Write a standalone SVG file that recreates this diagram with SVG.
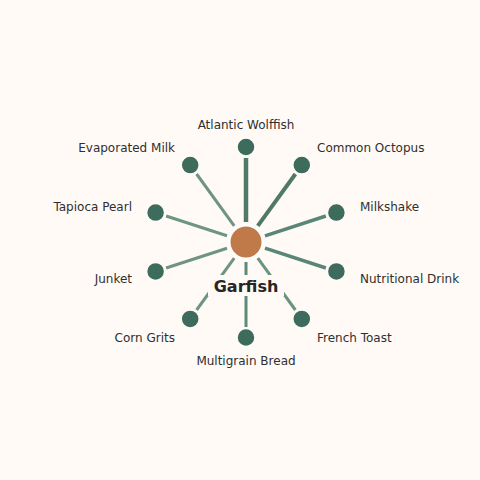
<svg xmlns="http://www.w3.org/2000/svg" width="480" height="480" viewBox="0 0 480 480">
<style>
.bg{fill:#fffaf6}
.leaf{fill:#3d6b5c;stroke:#fffaf6;stroke-width:1.5}
.hub{fill:#c07a4a;stroke:#ffffff;stroke-width:2}
.lbl{font-family:"DejaVu Sans",sans-serif;font-size:12px;fill:#2f2f2f}
.hubl{font-family:"DejaVu Sans",sans-serif;font-size:16px;font-weight:bold;fill:#262626}
.edge{stroke-linecap:butt;fill:none}
</style>
<rect class="bg" x="0" y="0" width="480" height="480"/>
<g id="connectors">
<line class="edge" x1="246" y1="222" x2="246" y2="158" stroke="#4f7a6a" stroke-width="4.5"/>
<line class="edge" x1="257.8" y1="225.8" x2="295.4" y2="174" stroke="#4f7a6a" stroke-width="4"/>
<line class="edge" x1="265" y1="235.8" x2="325.9" y2="216" stroke="#5a8677" stroke-width="3.5"/>
<line class="edge" x1="265" y1="248.2" x2="325.9" y2="268" stroke="#5a8677" stroke-width="3.5"/>
<line class="edge" x1="257.8" y1="258.2" x2="295.4" y2="310" stroke="#6b9282" stroke-width="3"/>
<line class="edge" x1="246" y1="262" x2="246" y2="327" stroke="#5f8a7a" stroke-width="3"/>
<line class="edge" x1="234.2" y1="258.2" x2="196.6" y2="310" stroke="#6e9484" stroke-width="3"/>
<line class="edge" x1="227" y1="248.2" x2="166.1" y2="268" stroke="#6e9484" stroke-width="3"/>
<line class="edge" x1="227" y1="235.8" x2="166.1" y2="216" stroke="#6e9484" stroke-width="3"/>
<line class="edge" x1="234.2" y1="225.8" x2="196.6" y2="174" stroke="#6e9484" stroke-width="3"/>
</g>
<g id="n-atlantic-wolffish"><circle class="leaf" cx="246" cy="147" r="9"/><text class="lbl" x="246" y="128.5" text-anchor="middle">Atlantic Wolffish</text></g>
<g id="n-common-octopus"><circle class="leaf" cx="301.8" cy="165.1" r="9"/><text class="lbl" x="317" y="151.5">Common Octopus</text></g>
<g id="n-milkshake"><circle class="leaf" cx="336.4" cy="212.6" r="9"/><text class="lbl" x="360" y="210.5">Milkshake</text></g>
<g id="n-nutritional-drink"><circle class="leaf" cx="336.4" cy="271.4" r="9"/><text class="lbl" x="360" y="282.5">Nutritional Drink</text></g>
<g id="n-french-toast"><circle class="leaf" cx="301.8" cy="318.9" r="9"/><text class="lbl" x="317" y="341.5">French Toast</text></g>
<g id="n-multigrain-bread"><circle class="leaf" cx="246" cy="337.5" r="9"/><text class="lbl" x="246" y="364.5" text-anchor="middle">Multigrain Bread</text></g>
<g id="n-corn-grits"><circle class="leaf" cx="190.2" cy="318.9" r="9"/><text class="lbl" x="175" y="341.5" text-anchor="end">Corn Grits</text></g>
<g id="n-junket"><circle class="leaf" cx="155.6" cy="271.4" r="9"/><text class="lbl" x="132" y="282.5" text-anchor="end">Junket</text></g>
<g id="n-tapioca-pearl"><circle class="leaf" cx="155.6" cy="212.6" r="9"/><text class="lbl" x="132" y="210.5" text-anchor="end">Tapioca Pearl</text></g>
<g id="n-evaporated-milk"><circle class="leaf" cx="190.2" cy="165.1" r="9"/><text class="lbl" x="175" y="151.5" text-anchor="end">Evaporated Milk</text></g>
<g id="n-garfish">
<circle class="hub" cx="246" cy="242" r="16.5"/>
<rect class="bg" x="208" y="275" width="76" height="21"/>
<text class="hubl" x="246" y="291.5" text-anchor="middle">Garfish</text>
</g>
</svg>
